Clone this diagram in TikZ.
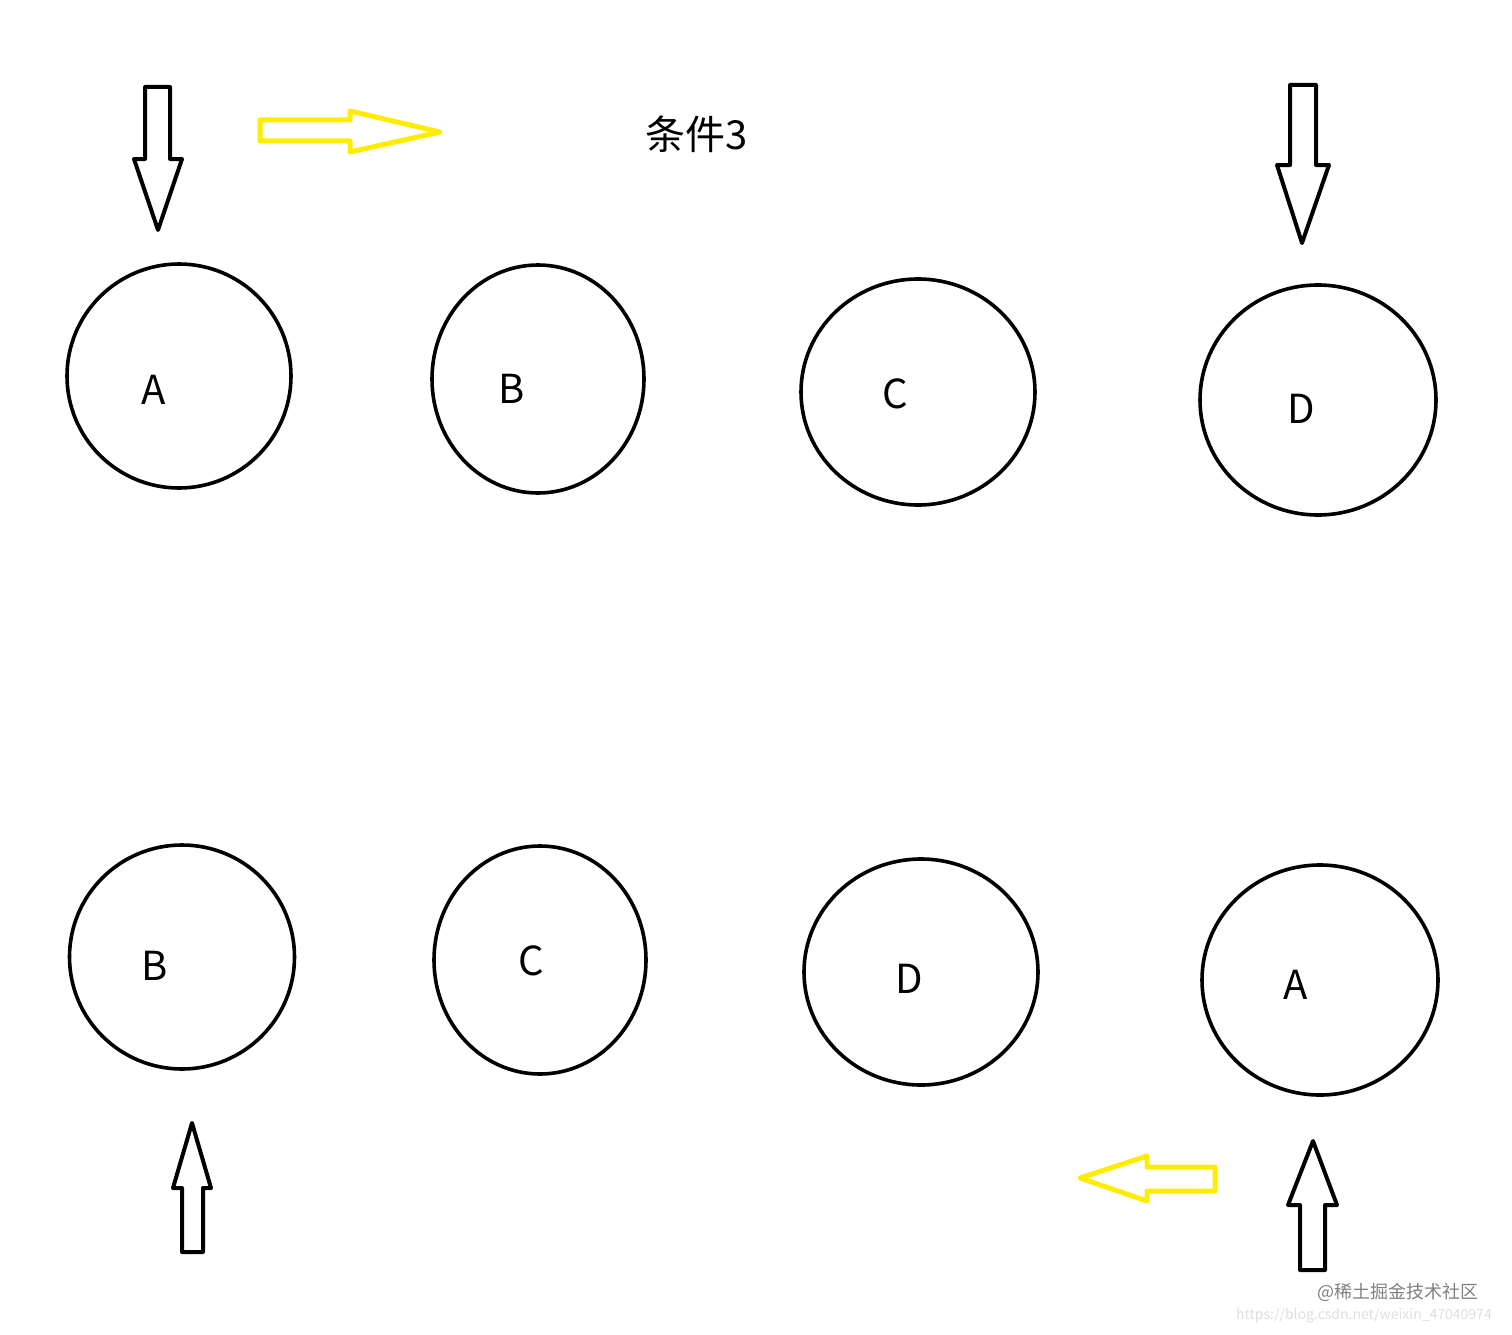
\documentclass[tikz,border=0pt]{standalone}
\usepackage{fontspec}
\setmainfont{Noto Sans CJK SC}
\usetikzlibrary{shapes.geometric}
\tikzset{
  circ/.style={ellipse, draw=black, line width=3.6pt, inner sep=0pt},
  lbl/.style={font=\fontsize{40}{44}\selectfont, inner sep=0pt},
  blkarrow/.style={draw=black, line width=4pt, line join=round},
  ylwarrow/.style={draw=yellow!95!orange, line width=5pt, line join=round},
}
\begin{document}
\begin{tikzpicture}[x=1pt,y=-1pt]
\useasboundingbox (0,0) rectangle (1512,1335);
% circles top
\node[circ, minimum width=224pt, minimum height=224pt] (A1) at (179,376) {};
\node[circ, minimum width=212pt, minimum height=228pt] (B1) at (538,379) {};
\node[circ, minimum width=234pt, minimum height=226pt] (C1) at (918,392) {};
\node[circ, minimum width=236pt, minimum height=230pt] (D1) at (1318,400) {};
% circles bottom
\node[circ, minimum width=225pt, minimum height=224pt] (B2) at (182,957) {};
\node[circ, minimum width=212pt, minimum height=228pt] (C2) at (540,960) {};
\node[circ, minimum width=234pt, minimum height=226pt] (D2) at (921,972) {};
\node[circ, minimum width=236pt, minimum height=230pt] (A2) at (1320,980) {};
% labels
\node[lbl] (lA1) at (154,390) {A};
\node[lbl] (lB1) at (512,389) {B};
\node[lbl] (lC1) at (895,394) {C};
\node[lbl] (lD1) at (1301,409) {D};
\node[lbl] (lB2) at (155,966) {B};
\node[lbl] (lC2) at (531,961) {C};
\node[lbl] (lD2) at (909,979) {D};
\node[lbl] (lA2) at (1296,985) {A};
% title
\node[lbl] (title) at (697,134) {条件3};
% black arrows
\draw[blkarrow] (145,87) -- (170,87) -- (170,159) -- (182,159) -- (158,230) -- (134,159) -- (145,159) -- cycle;
\draw[blkarrow] (1290,85) -- (1316,85) -- (1316,165) -- (1329,165) -- (1302,243) -- (1277,165) -- (1290,165) -- cycle;
\draw[blkarrow] (182,1252) -- (203,1252) -- (203,1188) -- (211,1188) -- (192,1123) -- (173,1188) -- (182,1188) -- cycle;
\draw[blkarrow] (1300,1270) -- (1325,1270) -- (1325,1205) -- (1337,1205) -- (1313,1141) -- (1288,1205) -- (1300,1205) -- cycle;
% yellow arrows
\draw[ylwarrow] (260,120) -- (350,120) -- (350,111) -- (440,132) -- (350,152) -- (350,141) -- (260,141) -- cycle;
\draw[ylwarrow] (1215,1167) -- (1147,1167) -- (1147,1156) -- (1080,1178) -- (1147,1201) -- (1147,1191) -- (1215,1191) -- cycle;
% watermark
\node[font=\fontsize{18}{20}\selectfont, text=black!50, inner sep=0pt] (wm1) at (1398,1292) {@稀土掘金技术社区};
\node[font=\fontsize{14}{16}\selectfont, text=black!13, inner sep=0pt, anchor=west] (wm2) at (1236,1316) {https://blog.csdn.net/weixin\_47040974};
\end{tikzpicture}
\end{document}
